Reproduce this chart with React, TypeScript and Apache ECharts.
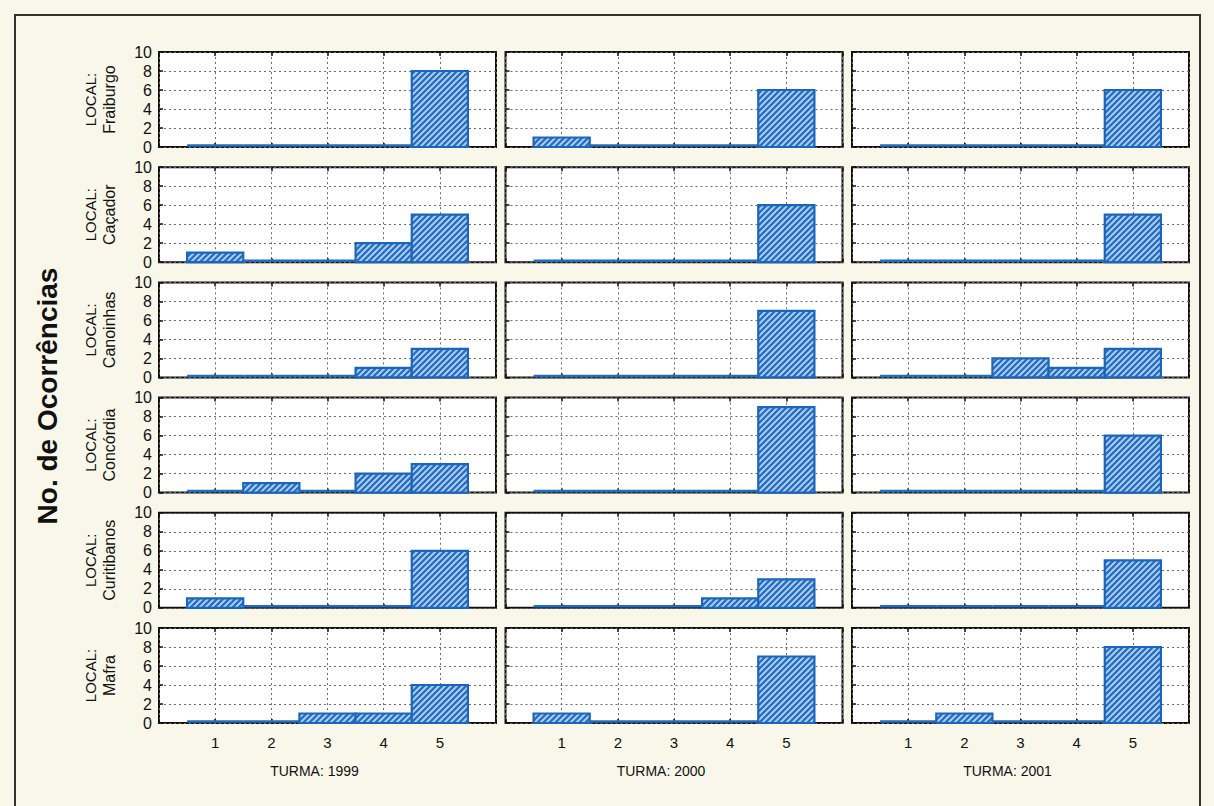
import React, { useEffect, useRef } from "react";
import * as echarts from "echarts";

// Histogram panels: count of occurrences per class (1..5), by site (rows) and class year (columns)
const LOCAIS = ["Fraiburgo", "Caçador", "Canoinhas", "Concórdia", "Curitibanos", "Mafra"];
const TURMAS = ["1999", "2000", "2001"];
const CLASSES = [1, 2, 3, 4, 5];

// One array per site; inner arrays follow TURMAS, values follow CLASSES
const fraiburgo = [
  [0, 0, 0, 0, 8],
  [1, 0, 0, 0, 6],
  [0, 0, 0, 0, 6],
];
const cacador = [
  [1, 0, 0, 2, 5],
  [0, 0, 0, 0, 6],
  [0, 0, 0, 0, 5],
];
const canoinhas = [
  [0, 0, 0, 1, 3],
  [0, 0, 0, 0, 7],
  [0, 0, 2, 1, 3],
];
const concordia = [
  [0, 1, 0, 2, 3],
  [0, 0, 0, 0, 9],
  [0, 0, 0, 0, 6],
];
const curitibanos = [
  [1, 0, 0, 0, 6],
  [0, 0, 0, 1, 3],
  [0, 0, 0, 0, 5],
];
const mafra = [
  [0, 0, 1, 1, 4],
  [1, 0, 0, 0, 7],
  [0, 1, 0, 0, 8],
];
const COUNTS = [fraiburgo, cacador, canoinhas, concordia, curitibanos, mafra];

const Y_MIN = 0;
const Y_MAX = 10;
const Y_STEP = 2;
const X_MIN = 0;
const X_MAX = 6;

const FONT = "Arial, 'Liberation Sans', sans-serif";

function makeHatch(): HTMLCanvasElement {
  const c = document.createElement("canvas");
  c.width = 6;
  c.height = 6;
  const ctx = c.getContext("2d")!;
  ctx.fillStyle = "#b4d4f2";
  ctx.fillRect(0, 0, 6, 6);
  ctx.strokeStyle = "#2a6fc4";
  ctx.lineWidth = 2.4;
  ctx.beginPath();
  ctx.moveTo(-1, 7);
  ctx.lineTo(7, -1);
  ctx.moveTo(-4, 4);
  ctx.lineTo(4, -4);
  ctx.moveTo(2, 10);
  ctx.lineTo(10, 2);
  ctx.stroke();
  return c;
}

export default function App() {
  const ref = useRef<HTMLDivElement>(null);

  useEffect(() => {
    if (!ref.current) return;
    const chart = echarts.init(ref.current, null, { renderer: "svg" });
    const hatch = makeHatch();
    const pattern = { image: hatch, repeat: "repeat" };

    const left0 = 159;
    const colPitch = 346.5;
    const panelW = 337;
    const top0 = 52;
    const rowPitch = 115.2;
    const panelH = 95;
    const nRows = LOCAIS.length;
    const nCols = TURMAS.length;

    const grids: any[] = [];
    const xAxes: any[] = [];
    const topAxes: any[] = [];
    const yAxes: any[] = [];
    const series: any[] = [];
    const graphics: any[] = [];

    const dotted = { color: "#6a6a6a", type: [2, 3], width: 1 };
    const tick = { show: true, inside: true, length: 4, lineStyle: { color: "#111", width: 1.5 } };

    for (let r = 0; r < nRows; r++) {
      for (let c = 0; c < nCols; c++) {
        const i = r * nCols + c;
        const left = left0 + c * colPitch;
        const top = top0 + r * rowPitch;
        grids.push({
          left,
          top,
          width: panelW,
          height: panelH,
          show: true,
          backgroundColor: "#ffffff",
          borderColor: "#111111",
          borderWidth: 2,
        });
        xAxes.push({
          type: "value",
          gridIndex: i,
          min: X_MIN,
          max: X_MAX,
          interval: 1,
          axisLine: { show: false },
          axisTick: tick,
          splitLine: { show: true, lineStyle: dotted },
          axisLabel: {
            show: r === nRows - 1,
            margin: 12,
            fontSize: 15,
            fontFamily: FONT,
            color: "#111",
            formatter: (v: number) => (CLASSES.includes(v) ? String(v) : ""),
          },
        });
        topAxes.push({
          type: "value",
          gridIndex: i,
          position: "top",
          min: X_MIN,
          max: X_MAX,
          interval: 1,
          axisLine: { show: false },
          axisTick: tick,
          splitLine: { show: false },
          axisLabel: { show: false },
        });
        yAxes.push({
          type: "value",
          gridIndex: i,
          min: Y_MIN,
          max: Y_MAX,
          interval: Y_STEP,
          axisLine: { show: false },
          axisTick: tick,
          splitLine: { show: true, lineStyle: dotted },
          axisLabel: {
            show: c === 0,
            margin: 7,
            fontSize: 16,
            fontFamily: FONT,
            color: "#111",
          },
        });
        const counts = COUNTS[r][c];
        series.push({
          type: "custom",
          xAxisIndex: i,
          yAxisIndex: i,
          clip: false,
          data: CLASSES.map((k, j) => [k, counts[j]]),
          renderItem: (_p: any, api: any) => {
            const x = api.value(0);
            const v = api.value(1);
            const a = api.coord([x - 0.5, v]);
            const b = api.coord([x + 0.5, 0]);
            if (v === 0) {
              return {
                type: "line",
                shape: { x1: a[0], y1: b[1] - 1.5, x2: b[0], y2: b[1] - 1.5 },
                style: { stroke: "#1f6cc2", lineWidth: 2.5 },
              };
            }
            return {
              type: "rect",
              shape: { x: a[0], y: a[1], width: b[0] - a[0], height: b[1] - a[1] },
              style: { fill: pattern, stroke: "#1b66bd", lineWidth: 2.2 },
            };
          },
        });
      }
      // site label at the left of each row
      const cy = top0 + r * rowPitch + panelH / 2;
      graphics.push({
        type: "text",
        x: 90,
        y: cy,
        rotation: Math.PI / 2,
        style: {
          text: "LOCAL:",
          fontSize: 15,
          fontFamily: FONT,
          fill: "#111",
          align: "center",
          verticalAlign: "middle",
        },
      });
      graphics.push({
        type: "text",
        x: 109,
        y: cy,
        rotation: Math.PI / 2,
        style: {
          text: LOCAIS[r],
          fontSize: 16,
          fontFamily: FONT,
          fill: "#111",
          align: "center",
          verticalAlign: "middle",
        },
      });
    }

    // class-year labels under the columns
    for (let c = 0; c < nCols; c++) {
      graphics.push({
        type: "text",
        x: left0 + c * colPitch + panelW / 2 - 13,
        y: 771,
        style: {
          text: "TURMA: " + TURMAS[c],
          fontSize: 14,
          fontFamily: FONT,
          fill: "#111",
          align: "center",
          verticalAlign: "middle",
        },
      });
    }

    // overall y title
    graphics.push({
      type: "text",
      x: 47,
      y: 396,
      rotation: Math.PI / 2,
      style: {
        text: "No. de Ocorrências",
        fontSize: 28,
        fontWeight: "bold",
        fontFamily: FONT,
        fill: "#111",
        align: "center",
        verticalAlign: "middle",
      },
    });

    // outer frame
    graphics.push({
      type: "rect",
      z: -1,
      shape: { x: 15, y: 15, width: 1185, height: 830 },
      style: { fill: "none", stroke: "#333", lineWidth: 2 },
    });

    chart.setOption({
      animation: false,
      backgroundColor: "#f9f7ea",
      grid: grids,
      xAxis: xAxes.concat(topAxes),
      yAxis: yAxes,
      series,
      graphic: graphics,
    });

    return () => chart.dispose();
  }, []);

  return (
    <div
      ref={ref}
      style={{ position: "absolute", left: 0, top: 0, width: 1214, height: 806 }}
    />
  );
}
